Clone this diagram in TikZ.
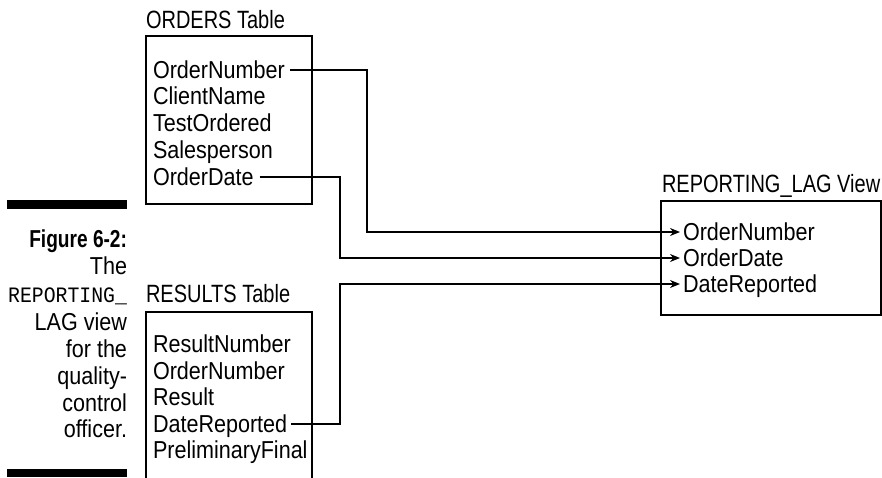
\documentclass[tikz,border=0pt]{standalone}
\usepackage{fontspec}
\setmainfont{Liberation Sans}[FakeStretch=0.88]
\newfontfamily\ttlfont{Liberation Sans}[FakeStretch=0.8]
\newfontfamily\capmono{Liberation Mono}[FakeStretch=0.9]
\newfontfamily\capbold{Liberation Sans}[FakeStretch=0.78,UprightFont=* Bold]
\usetikzlibrary{arrows.meta}
\begin{document}
\begin{tikzpicture}[x=1pt,y=-1pt,
  txt/.style={inner sep=0pt,outer sep=0pt,font=\fontsize{24.5}{27}\selectfont},
  row/.style={txt,anchor=base west},
  ttl/.style={txt,anchor=base west,font=\ttlfont\fontsize{25}{27}\selectfont},
  captxt/.style={txt,anchor=base east},
  boxline/.style={line width=1.2pt},
  conn/.style={line width=1.3pt},
  arr/.style={conn,-{Stealth[length=10pt,width=8pt]}},
  bar/.style={fill=black,draw=none}]
\useasboundingbox (0,0) rectangle (882,477);

% caption column
\fill[bar] (7,200) rectangle (127,209);
\fill[bar] (7,469) rectangle (127,477);
\node[captxt,font=\capbold\fontsize{24.5}{27}\selectfont] (c0) at (127,247) {Figure 6-2:};
\node[captxt] (c1) at (127,274) {The};
\node[captxt,font=\capmono\fontsize{22}{26}\selectfont] (c2) at (127,302) {REPORTING\_};
\node[captxt] (c3) at (127,330) {LAG view};
\node[captxt] (c4) at (127,357) {for the};
\node[captxt] (c5) at (127,384) {quality-};
\node[captxt] (c6) at (127,411) {control};
\node[captxt] (c7) at (127,437) {officer.};

% ORDERS table
\node[ttl] (ot) at (146,28) {ORDERS Table};
\draw[boxline] (146,36) rectangle (312,204);
\node[row] (o1) at (153,78) {OrderNumber};
\node[row] (o2) at (153,104.75) {ClientName};
\node[row] (o3) at (153,131.5) {TestOrdered};
\node[row] (o4) at (153,158.25) {Salesperson};
\node[row] (o5) at (153,185) {OrderDate};

% RESULTS table
\node[ttl] (rt) at (146,302) {RESULTS Table};
\draw[boxline] (146,480) -- (146,312) -- (312,312) -- (312,480);
\node[row] (r1) at (153,352) {ResultNumber};
\node[row] (r2) at (153,379) {OrderNumber};
\node[row] (r3) at (153,405.5) {Result};
\node[row] (r4) at (153,432) {DateReported};
\node[row] (r5) at (153,458.5) {PreliminaryFinal};

% REPORTING_LAG view
\node[ttl] (vt) at (662,192) {REPORTING\_LAG View};
\draw[boxline] (661,201) rectangle (881,315);
\node[row] (v1) at (683,240.5) {OrderNumber};
\node[row] (v2) at (683,266.5) {OrderDate};
\node[row] (v3) at (683,292.5) {DateReported};

% connector columns
\coordinate (k1) at (367,0);
\coordinate (k2) at (340,0);

\coordinate (a1) at ([xshift=5pt,yshift=8pt]o1.base east);
\coordinate (a2) at ([xshift=6pt,yshift=8pt]o5.base east);
\coordinate (a3) at ([xshift=4pt,yshift=8pt]r4.base east);
\coordinate (b1) at ([xshift=-3pt,yshift=8.5pt]v1.base west);
\coordinate (b2) at ([xshift=-3pt,yshift=8.5pt]v2.base west);
\coordinate (b3) at ([xshift=-3pt,yshift=8.5pt]v3.base west);

\draw[arr] (a1) -- (a1 -| k1) -- (b1 -| k1) -- (b1);
\draw[arr] (a2) -- (a2 -| k2) -- (b2 -| k2) -- (b2);
\draw[arr] (a3) -- (a3 -| k2) -- (b3 -| k2) -- (b3);
\end{tikzpicture}
\end{document}
